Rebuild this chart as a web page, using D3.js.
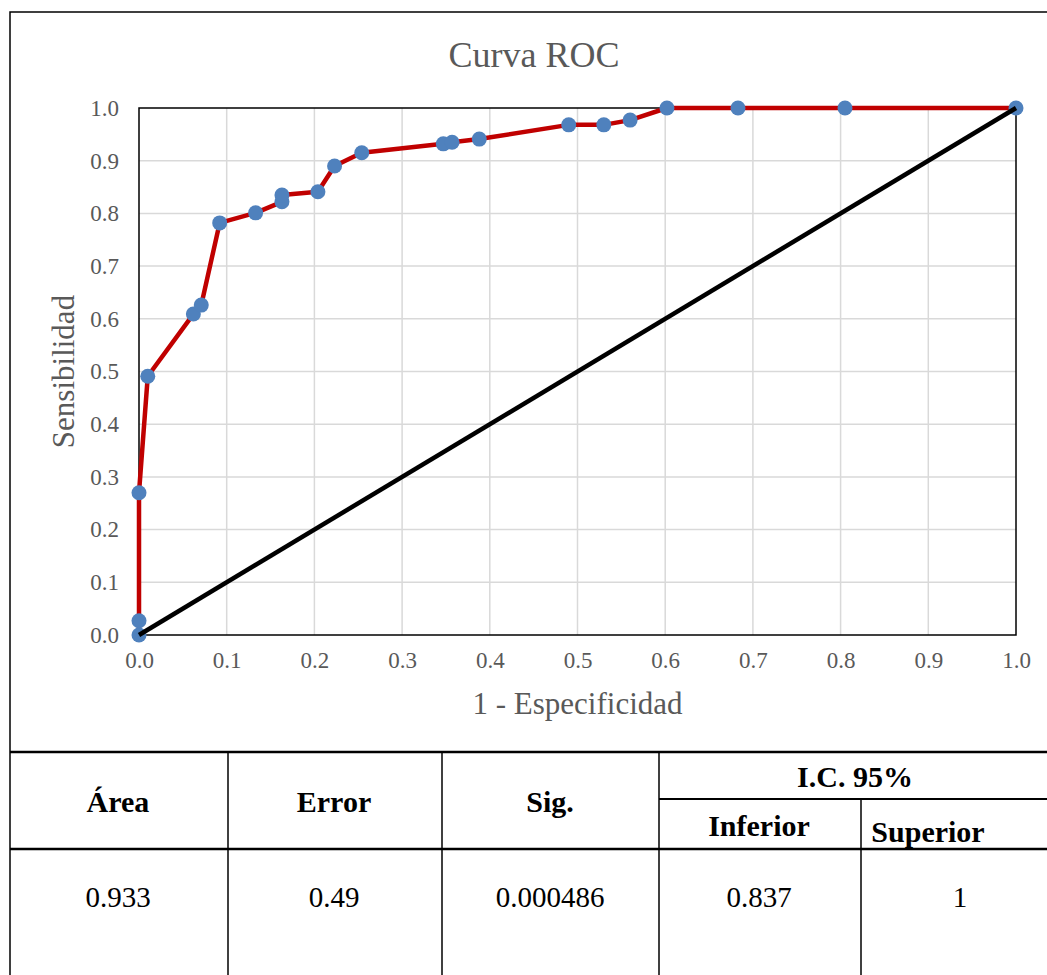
<!DOCTYPE html>
<html>
<head>
<meta charset="utf-8">
<script src="https://cdn.jsdelivr.net/npm/d3@7"></script>
<style>
  html, body { margin: 0; padding: 0; background: #fff; }
  svg { display: block; }
  text { font-family: "Liberation Serif", "Times New Roman", serif; }
</style>
</head>
<body>
<svg id="chart" width="1047" height="975"></svg>
<script>
// ---- data ----
const fpr = [0, 0, 0, 0.010, 0.062, 0.071, 0.092, 0.133, 0.163, 0.163, 0.204, 0.223, 0.254, 0.347, 0.357, 0.388, 0.490, 0.530, 0.560, 0.602, 0.683, 0.805, 1.0];
const tpr = [0, 0.027, 0.270, 0.491, 0.609, 0.626, 0.782, 0.801, 0.822, 0.835, 0.841, 0.890, 0.915, 0.932, 0.935, 0.941, 0.968, 0.968, 0.977, 1.0, 1.0, 1.0, 1.0];
const refX = [0, 1];
const refY = [0, 1];
const xTicks = [0, 0.1, 0.2, 0.3, 0.4, 0.5, 0.6, 0.7, 0.8, 0.9, 1.0];
const yTicks = [0, 0.1, 0.2, 0.3, 0.4, 0.5, 0.6, 0.7, 0.8, 0.9, 1.0];
const chartTitle = "Curva ROC";
const xTitle = "1 - Especificidad";
const yTitle = "Sensibilidad";
const tableHeaders = ["Área", "Error", "Sig."];
const ciHeader = "I.C. 95%";
const ciSubHeaders = ["Inferior", "Superior"];
const tableValues = ["0.933", "0.49", "0.000486", "0.837", "1"];

// ---- layout ----
const svg = d3.select("#chart");
const plot = { left: 139, right: 1016, top: 108, bottom: 635 };
const x = d3.scaleLinear().domain([0, 1]).range([plot.left, plot.right]);
const y = d3.scaleLinear().domain([0, 1]).range([plot.bottom, plot.top]);

// outer chart border
svg.append("path")
  .attr("d", `M10,975 L10,12 L1047,12`)
  .attr("fill", "none").attr("stroke", "#000").attr("stroke-width", 1.5);

// title
svg.append("text").attr("x", 534).attr("y", 67).attr("text-anchor", "middle")
  .attr("font-size", 36).attr("fill", "#595959").text(chartTitle);

// gridlines
const g = svg.append("g");
g.selectAll(".vg").data(xTicks.slice(1, -1)).join("line")
  .attr("x1", d => x(d)).attr("x2", d => x(d))
  .attr("y1", plot.top).attr("y2", plot.bottom)
  .attr("stroke", "#d9d9d9").attr("stroke-width", 1.5);
g.selectAll(".hg").data(yTicks.slice(1, -1)).join("line")
  .attr("x1", plot.left).attr("x2", plot.right)
  .attr("y1", d => y(d)).attr("y2", d => y(d))
  .attr("stroke", "#d9d9d9").attr("stroke-width", 1.5);

// plot frame
g.append("rect").attr("x", plot.left).attr("y", plot.top)
  .attr("width", plot.right - plot.left).attr("height", plot.bottom - plot.top)
  .attr("fill", "none").attr("stroke", "#000").attr("stroke-width", 1.5);

// axes (tick labels via d3 axes)
const xAxis = d3.axisBottom(x).tickValues(xTicks).tickFormat(d3.format(".1f")).tickSize(0).tickPadding(17);
const yAxis = d3.axisLeft(y).tickValues(yTicks).tickFormat(d3.format(".1f")).tickSize(0).tickPadding(20);
const xg = svg.append("g").attr("transform", `translate(0,${plot.bottom})`).call(xAxis);
const yg = svg.append("g").attr("transform", `translate(${plot.left},0)`).call(yAxis);
[xg, yg].forEach(a => {
  a.select(".domain").remove();
  a.selectAll("text").attr("font-family", "Liberation Serif, serif").attr("font-size", 23).attr("fill", "#595959");
});

// axis titles
svg.append("text").attr("x", (plot.left + plot.right) / 2).attr("y", 714).attr("text-anchor", "middle")
  .attr("font-size", 31).attr("fill", "#595959").text(xTitle);
svg.append("text").attr("transform", `translate(74,${(plot.top + plot.bottom) / 2}) rotate(-90)`)
  .attr("text-anchor", "middle").attr("font-size", 31).attr("fill", "#595959").text(yTitle);

// ROC line
const pts = fpr.map((v, i) => [v, tpr[i]]);
const line = d3.line().x(d => x(d[0])).y(d => y(d[1]));
svg.append("path").datum(pts).attr("d", line)
  .attr("fill", "none").attr("stroke", "#C00000").attr("stroke-width", 4.5).attr("stroke-linejoin", "round");

// markers
svg.selectAll(".pt").data(pts).join("circle")
  .attr("cx", d => x(d[0])).attr("cy", d => y(d[1])).attr("r", 7.5).attr("fill", "#4F81BD");

// reference diagonal
svg.append("path").datum(refX.map((v, i) => [v, refY[i]])).attr("d", line)
  .attr("fill", "none").attr("stroke", "#000").attr("stroke-width", 4.5);

// ---- table ----
const cols = [10, 228, 442, 659, 861, 1047];
const tTop = 752, tSplit = 799, tHead = 849, tBottom = 975;
const tl = svg.append("g").attr("stroke", "#000");
tl.append("line").attr("x1", 10).attr("x2", 1047).attr("y1", tTop).attr("y2", tTop).attr("stroke-width", 2.5);
tl.append("line").attr("x1", 10).attr("x2", 1047).attr("y1", tHead).attr("y2", tHead).attr("stroke-width", 2.5);
tl.append("line").attr("x1", cols[3]).attr("x2", 1047).attr("y1", tSplit).attr("y2", tSplit).attr("stroke-width", 2);
[1, 2, 3].forEach(i => {
  tl.append("line").attr("x1", cols[i]).attr("x2", cols[i]).attr("y1", tTop).attr("y2", tBottom).attr("stroke-width", 1.5);
});
tl.append("line").attr("x1", cols[4]).attr("x2", cols[4]).attr("y1", tSplit).attr("y2", tBottom).attr("stroke-width", 1.5);

const headCx = [118, 334, 550];
tableHeaders.forEach((h, i) => {
  svg.append("text").attr("x", headCx[i]).attr("y", 812).attr("text-anchor", "middle")
    .attr("font-size", 30).attr("font-weight", "bold").attr("fill", "#000").text(h);
});
svg.append("text").attr("x", 855).attr("y", 787).attr("text-anchor", "middle")
  .attr("font-size", 30).attr("font-weight", "bold").attr("fill", "#000").text(ciHeader);
svg.append("text").attr("x", 759).attr("y", 836).attr("text-anchor", "middle")
  .attr("font-size", 30).attr("font-weight", "bold").attr("fill", "#000").text(ciSubHeaders[0]);
svg.append("text").attr("x", 928).attr("y", 842).attr("text-anchor", "middle")
  .attr("font-size", 30).attr("font-weight", "bold").attr("fill", "#000").text(ciSubHeaders[1]);

const valCx = [118, 334, 550, 759, 960];
tableValues.forEach((v, i) => {
  svg.append("text").attr("x", valCx[i]).attr("y", 907).attr("text-anchor", "middle")
    .attr("font-size", 29).attr("fill", "#000").text(v);
});
</script>
</body>
</html>
